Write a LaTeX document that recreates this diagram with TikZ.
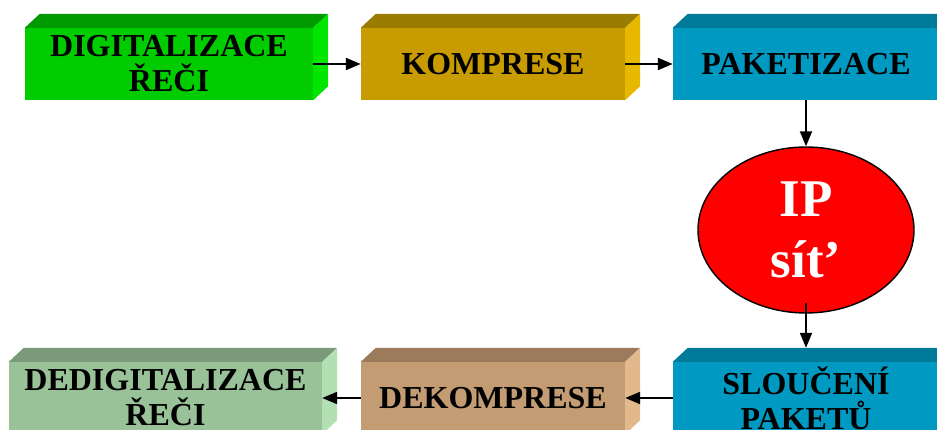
\documentclass[tikz,border=0pt]{standalone}
\usepackage{fontspec}
\setmainfont{Liberation Serif}
\usetikzlibrary{calc,arrows.meta,shapes.geometric}

% face colours: front / top / side
\definecolor{grF}{HTML}{00CC00}\definecolor{grT}{HTML}{009900}\definecolor{grS}{HTML}{00E600}
\definecolor{goF}{HTML}{C89C00}\definecolor{goT}{HTML}{9A7C00}\definecolor{goS}{HTML}{E6B800}
\definecolor{blF}{HTML}{0099C2}\definecolor{blT}{HTML}{007A99}\definecolor{blS}{HTML}{00B0DD}
\definecolor{lgF}{HTML}{99C299}\definecolor{lgT}{HTML}{7A9A7A}\definecolor{lgS}{HTML}{B3E0B3}
\definecolor{taF}{HTML}{C49C74}\definecolor{taT}{HTML}{9C7B5C}\definecolor{taS}{HTML}{E2B98C}
\definecolor{netred}{HTML}{FF0000}

\tikzset{
  stagebox/.style={rectangle, inner sep=0pt, minimum height=72, align=center,
    font=\fontsize{32}{35}\selectfont\bfseries},
  flow/.style={line width=1.9pt, -{Triangle[length=15pt,width=12pt]}},
  cloud/.style={ellipse, draw=black, line width=1.4pt, fill=netred, text=white,
    minimum width=216, minimum height=166, inner sep=0pt, align=center,
    font=\fontsize{53}{61}\selectfont\bfseries},
}

% top and side faces of a 3-D block behind the front face of node #1
\newcommand{\blockfaces}[3]{%
  \fill[#2] (#1.north west) -- ++(15,-14) -- ($(#1.north east)+(15,-14)$) -- (#1.north east) -- cycle;
  \fill[#3] (#1.north east) -- ++(15,-14) -- ($(#1.south east)+(15,-14)$) -- (#1.south east) -- cycle;
}

\begin{document}
\begin{tikzpicture}[x=1pt,y=-1pt]
\useasboundingbox (0,0) rectangle (937,430);
\clip (0,0) rectangle (937,430);

% upper row
\node[stagebox, fill=grF, minimum width=288] (dig) at (169,64) {DIGITALIZACE\\ŘEČI};
\node[stagebox, fill=goF, minimum width=264] (komp) at (493,64) {KOMPRESE};
\node[stagebox, fill=blF, minimum width=266] (pak) at (806,64) {PAKETIZACE};
\blockfaces{dig}{grT}{grS}
\blockfaces{komp}{goT}{goS}
\blockfaces{pak}{blT}{blS}

% network
\node[cloud] (ip) at (806,230) {IP\\sít’};

% lower row
\node[stagebox, fill=lgF, minimum width=313] (dedig) at (165.5,398) {DEDIGITALIZACE\\ŘEČI};
\node[stagebox, fill=taF, minimum width=264] (dekomp) at (493,398) {DEKOMPRESE};
\node[stagebox, fill=blF, minimum width=266] (slo) at (806,398) {SLOUČENÍ\\PAKETŮ};
\blockfaces{dedig}{lgT}{lgS}
\blockfaces{dekomp}{taT}{taS}
\blockfaces{slo}{blT}{blS}

% connectors
\draw[flow] (dig) -- (komp);
\draw[flow] (komp) -- (pak);
\draw[flow] (pak) -- (ip);
\draw[flow] ([yshift=11pt]ip.south) -- ([yshift=14pt]slo.north);
\draw[flow] (slo) -- (dekomp);
\draw[flow] (dekomp) -- (dedig);
\end{tikzpicture}
\end{document}
